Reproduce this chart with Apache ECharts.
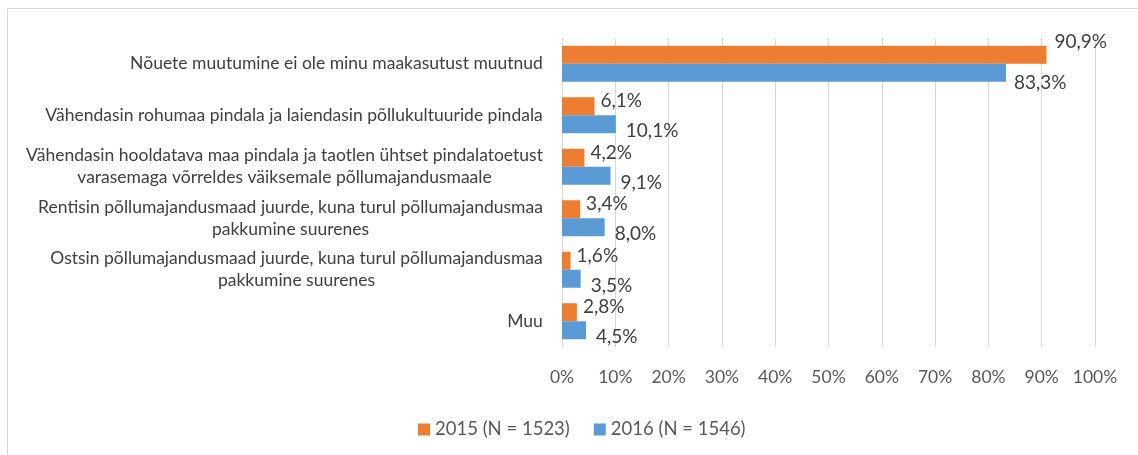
<!DOCTYPE html>
<html>
<head>
<meta charset="utf-8">
<script src="https://cdn.jsdelivr.net/npm/echarts@6/dist/echarts.min.js"></script>
<style>html,body{margin:0;padding:0;background:#fff}#c{width:1138px;height:455px}</style>
</head>
<body>
<div id="c"></div>
<script>
const categories = [
  "Nõuete muutumine ei ole minu maakasutust muutnud",
  "Vähendasin rohumaa pindala ja laiendasin põllukultuuride pindala",
  "Vähendasin hooldatava maa pindala ja taotlen ühtset pindalatoetust\nvarasemaga võrreldes väiksemale põllumajandusmaale",
  "Rentisin põllumajandusmaad juurde, kuna turul põllumajandusmaa\npakkumine suurenes",
  "Ostsin põllumajandusmaad juurde, kuna turul põllumajandusmaa\npakkumine suurenes",
  "Muu"
];
const series2015 = [90.9, 6.1, 4.2, 3.4, 1.6, 2.8];
const series2016 = [83.3, 10.1, 9.1, 8.0, 3.5, 4.5];
const seriesNames = ["2015 (N = 1523)", "2016 (N = 1546)"];
const xTicks = [0, 10, 20, 30, 40, 50, 60, 70, 80, 90, 100];

const FONT = 'Lato';
const TXT = '#404040';
const AX = '#595959';
const CAT_FS = 17.5;

// measure for centered multi-line category labels
const cv = document.createElement('canvas').getContext('2d');
cv.font = CAT_FS + 'px ' + FONT;
const rich = {};
categories.forEach((c, i) => {
  const w = Math.max(...c.split('\n').map(s => cv.measureText(s).width));
  rich['r' + i] = {width: Math.ceil(w), align: 'center', fontSize: CAT_FS, fontFamily: FONT, color: TXT, lineHeight: 22};
});

const fmt = v => v.toFixed(1).replace('.', ',') + '%';

const chart = echarts.init(document.getElementById('c'), null, {renderer: 'canvas'});
chart.setOption({
  animation: false,
  textStyle: {fontFamily: FONT},
  graphic: [{type: 'rect', shape: {x: 7.5, y: 8.5, width: 1200, height: 600}, style: {fill: 'none', stroke: '#D9D9D9', lineWidth: 1}, silent: true}],
  grid: {left: 562, right: 43, top: 38, bottom: 108},
  legend: {
    top: 415, left: 413, itemWidth: 12, itemHeight: 12, itemGap: 24,
    icon: 'rect',
    textStyle: {fontSize: 18.5, color: AX, fontFamily: FONT},
    data: seriesNames
  },
  xAxis: {
    type: 'value', min: 0, max: 100, interval: 10,
    axisLine: {show: false}, axisTick: {show: false},
    splitLine: {lineStyle: {color: '#D9D9D9', width: 1}},
    axisLabel: {formatter: v => v + '%', fontSize: 17.5, color: AX, margin: 21, fontFamily: FONT}
  },
  yAxis: {
    type: 'category', inverse: true, data: categories,
    axisLine: {show: false}, axisTick: {show: false},
    axisLabel: {
      margin: 19, fontSize: CAT_FS, color: TXT, fontFamily: FONT, lineHeight: 22,
      formatter: (v, i) => v.split('\n').map(s => '{r' + i + '|' + s + '}').join('\n'),
      rich: rich
    }
  },
  series: [
    {
      name: seriesNames[0], type: 'bar', barWidth: 18, barGap: '0%',
      itemStyle: {color: '#ED7D31'},
      data: series2015.map((v, i) => ({value: v, label: {offset: i === 0 ? [4, -13] : [2, -5]}})),
      label: {show: true, position: 'right', distance: 4, formatter: p => fmt(p.value), fontSize: 19, color: TXT, fontFamily: FONT}
    },
    {
      name: seriesNames[1], type: 'bar', barWidth: 18, barGap: '0%',
      itemStyle: {color: '#5B9BD5'},
      data: series2016.map((v, i) => ({value: v, label: {offset: i === 0 ? [4, 10] : [6, 7]}})),
      label: {show: true, position: 'right', distance: 4, formatter: p => fmt(p.value), fontSize: 19, color: TXT, fontFamily: FONT}
    }
  ]
});
</script>
</body>
</html>
